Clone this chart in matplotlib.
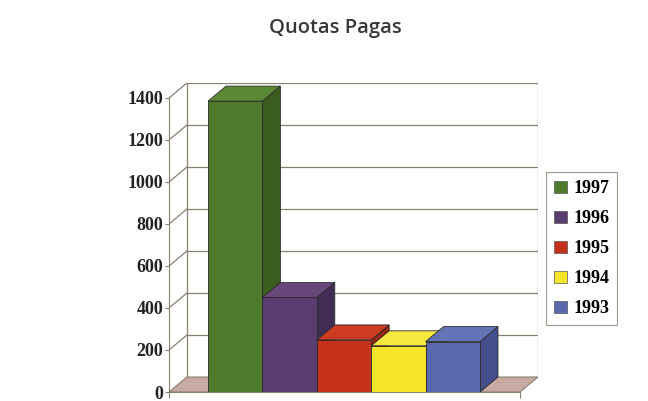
import matplotlib
matplotlib.use('Agg')
import matplotlib.pyplot as plt
from matplotlib.patches import Polygon, Patch

years = ['1997', '1996', '1995', '1994', '1993']
values = [1385, 450, 248, 220, 240]
front_colors = ['#4e7a2c', '#5a3c6e', '#c4321c', '#f5e42a', '#5a68ae']
side_colors = ['#3b5d1f', '#432c54', '#962412', '#c9bb18', '#454f8c']
top_colors = ['#5a8936', '#674679', '#cc3b22', '#f7e840', '#6472b6']
yticks = [0, 200, 400, 600, 800, 1000, 1200, 1400]

# fake 3d depth, in data units
dx = 0.33
dy = 71.4
x0 = -1.217
xf = 4.735 + 0.5
x1 = xf + dx
ymax = 1400
grid_c = '#8a8070'

fig = plt.figure(figsize=(6.48, 4.01), dpi=100)
fig.patch.set_facecolor('white')
ax = fig.add_axes([0.2608, 0.02244, 0.5694, 0.7706])
ax.set_xlim(x0, x1)
ax.set_ylim(0, ymax + dy)

# floor
ax.add_patch(Polygon([(x0, 0), (xf, 0), (x1, dy), (x0 + dx, dy)], closed=True,
                     facecolor='#c9aaa3', edgecolor=grid_c, lw=0.8, zorder=1))
# walls and grid
for v in yticks[1:]:
    ax.plot([x0, x0 + dx], [v, v + dy], color=grid_c, lw=0.9, zorder=1)
    ax.plot([x0 + dx, x1], [v + dy, v + dy], color=grid_c, lw=0.9, zorder=1)
ax.plot([x0 + dx, x0 + dx], [dy, ymax + dy], color=grid_c, lw=0.9, zorder=1)
ax.plot([x1, x1], [dy, ymax + dy], color=grid_c, lw=0.9, zorder=1)

# bars
for i, v in enumerate(values):
    l, r = i - 0.5, i + 0.5
    ax.add_patch(Polygon([(r, 0), (r + dx, dy), (r + dx, v + dy), (r, v)], closed=True,
                         facecolor=side_colors[i], edgecolor='#2a2a2a', lw=0.6, zorder=3 + i))
    ax.add_patch(Polygon([(l, v), (r, v), (r + dx, v + dy), (l + dx, v + dy)], closed=True,
                         facecolor=top_colors[i], edgecolor='#2a2a2a', lw=0.6, zorder=3 + i))
    ax.add_patch(Polygon([(l, 0), (r, 0), (r, v), (l, v)], closed=True,
                         facecolor=front_colors[i], edgecolor='#2a2a2a', lw=0.6, zorder=3 + i))

for s in ['top', 'right']:
    ax.spines[s].set_visible(False)
ax.spines['left'].set_bounds(0, ymax)
ax.spines['bottom'].set_bounds(x0, xf)
ax.spines['left'].set_color(grid_c)
ax.spines['bottom'].set_color(grid_c)
ax.set_yticks(yticks)
ax.set_yticklabels([str(t) for t in yticks], fontfamily='Liberation Serif',
                   fontweight='bold', fontsize=13, color='#222222')
ax.set_xticks([x0, xf])
ax.set_xticklabels([])
ax.tick_params(axis='y', length=3, color=grid_c, pad=1)
ax.tick_params(axis='x', length=4, color=grid_c)

handles = [Patch(facecolor=c, edgecolor='#555555', lw=0.5) for c in front_colors]
leg = ax.legend(handles, years, loc='upper left', bbox_to_anchor=(0.8426, 0.571),
                bbox_transform=fig.transFigure, frameon=True, fancybox=False,
                borderaxespad=0, handlelength=0.7, handleheight=0.7, handletextpad=0.35,
                labelspacing=0.72, borderpad=0.45,
                prop={'family': 'Liberation Serif', 'weight': 'bold', 'size': 13})
leg.get_frame().set_edgecolor('#8a8070')
leg.get_frame().set_linewidth(0.8)

fig.text(0.517, 0.93, 'Quotas Pagas', ha='center', va='center', fontsize=14.5,
         fontweight='semibold', family='Open Sans', color='#383838')

fig.savefig('out.png', dpi=100)
